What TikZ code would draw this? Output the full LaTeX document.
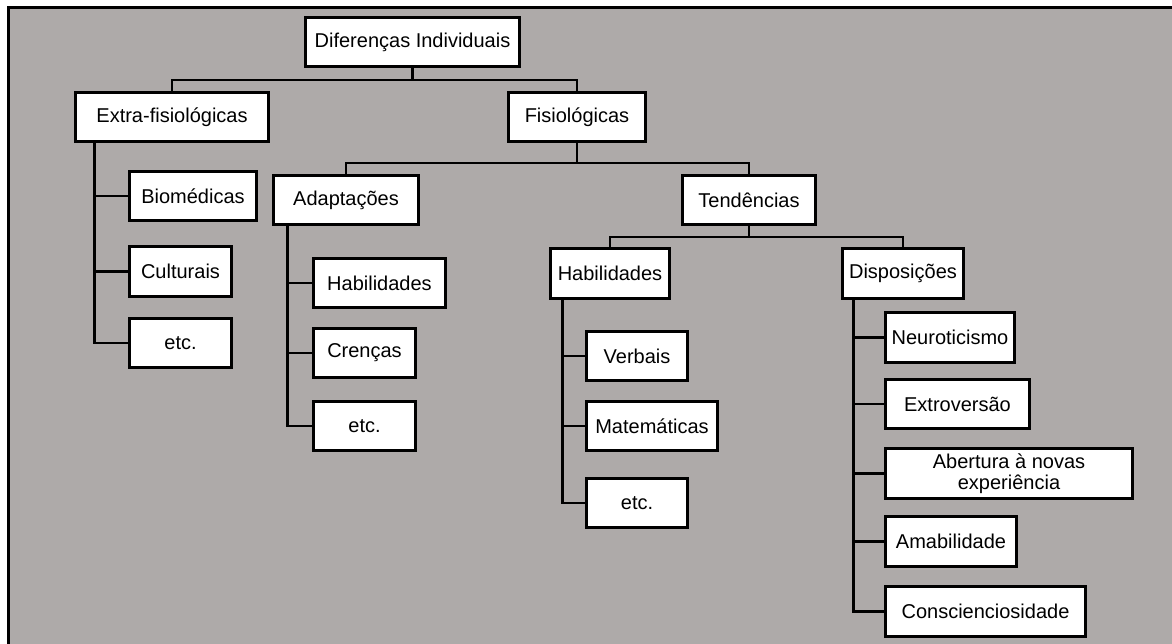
\documentclass[tikz,border=0pt]{standalone}
\usepackage{fontspec}
\setmainfont{Liberation Sans}
\definecolor{bggray}{RGB}{174,170,169}
\begin{document}
\begin{tikzpicture}[x=1pt,y=-1pt,
  box/.style={draw=black, fill=white, line width=2.6pt, inner sep=0pt,
    minimum height=49.5pt, font=\fontsize{20}{21}\selectfont, align=center},
  link/.style={line width=2.6pt, line cap=rect}]
\useasboundingbox (0,0) rectangle (1172,644);
\fill[white] (0,0) rectangle (1172,644);
\fill[bggray] (8,8) rectangle (1172,644);
\draw[line width=3pt] (8,650) -- (8,8) -- (1180,8);

% nodes
\node[box, minimum width=214pt] (root) at (412.5,42) {Diferenças Individuais};
\node[box, minimum width=193pt] (extra) at (172,117) {Extra-fisiológicas};
\node[box, minimum width=137pt] (fisio) at (577,117) {Fisiológicas};
\node[box, minimum width=145pt] (adapt) at (346,200) {Adaptações};
\node[box, minimum width=133pt] (tend) at (749,200) {Tendências};
\node[box, minimum width=127pt] (bio) at (193,196) {Biomédicas};
\node[box, minimum width=102pt] (cult) at (180.5,271.5) {Culturais};
\node[box, minimum width=102pt] (etcA) at (180.5,343) {etc.};
\node[box, minimum width=132pt] (habA) at (379.5,283) {Habilidades};
\node[box, minimum width=102pt] (cren) at (364.5,353) {Crenças};
\node[box, minimum width=102pt] (etcB) at (364.5,426) {etc.};
\node[box, minimum width=119pt] (habB) at (610,273.5) {Habilidades};
\node[box, minimum width=121pt] (disp) at (903,273.5) {Disposições};
\node[box, minimum width=101pt] (verb) at (637,356) {Verbais};
\node[box, minimum width=131pt] (mat) at (652,426) {Matemáticas};
\node[box, minimum width=101pt] (etcC) at (637,503) {etc.};
\node[box, minimum width=129pt] (neu) at (950,337.5) {Neuroticismo};
\node[box, minimum width=144pt] (ext) at (957.5,404) {Extroversão};
\node[box, minimum width=247pt] (abe) at (1009,473.5) {Abertura à novas\\experiência};
\node[box, minimum width=131pt] (ama) at (951,541.5) {Amabilidade};
\node[box, minimum width=200pt] (con) at (985.5,611.5) {Conscienciosidade};

% tree bars
\coordinate (b0) at (412.5,80);
\coordinate (b1) at (577,163);
\coordinate (b2) at (749,237);
\draw[link] (root.south) -- (b0);
\draw[link] (extra.north) |- (b0) -| (fisio.north);
\draw[link] (fisio.south) -- (b1);
\draw[link] (adapt.north) |- (b1) -| (tend.north);
\draw[link] (tend.south) -- (b2);
\draw[link] (habB.north) |- (b2) -| (disp.north);

% spines
\coordinate (s1) at ([xshift=20pt]extra.south west);
\coordinate (s2) at ([xshift=15pt]adapt.south west);
\coordinate (s3) at ([xshift=13pt]habB.south west);
\coordinate (s4) at ([xshift=12pt]disp.south west);
\draw[link] (s1) |- (etcA.west);
\draw[link] (bio.west) -- (bio.west -| s1);
\draw[link] (cult.west) -- (cult.west -| s1);
\draw[link] (s2) |- (etcB.west);
\draw[link] (habA.west) -- (habA.west -| s2);
\draw[link] (cren.west) -- (cren.west -| s2);
\draw[link] (s3) |- (etcC.west);
\draw[link] (verb.west) -- (verb.west -| s3);
\draw[link] (mat.west) -- (mat.west -| s3);
\draw[link] (s4) |- (con.west);
\draw[link] (neu.west) -- (neu.west -| s4);
\draw[link] (ext.west) -- (ext.west -| s4);
\draw[link] (abe.west) -- (abe.west -| s4);
\draw[link] (ama.west) -- (ama.west -| s4);

% redraw nodes over connectors
\end{tikzpicture}
\end{document}
